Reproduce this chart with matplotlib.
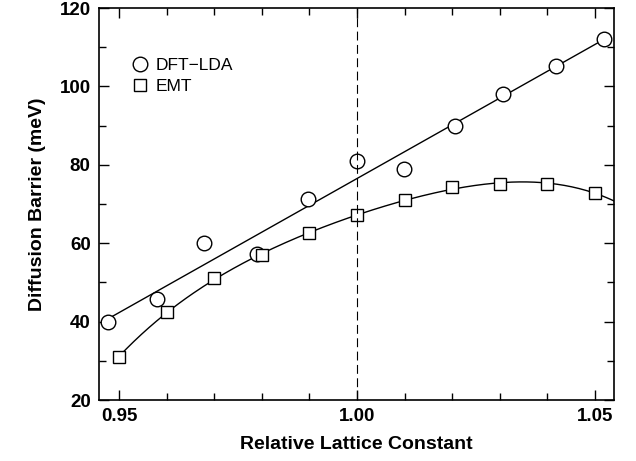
import numpy as np
import matplotlib
matplotlib.use("Agg")
import matplotlib.pyplot as plt
from matplotlib.ticker import MultipleLocator

# DFT-LDA barriers (circles)
dft_x = [0.9477, 0.9579, 0.9679, 0.9789, 0.9898, 1.0000, 1.0099, 1.0206, 1.0307, 1.0418, 1.0519]
dft_y = [40.0, 45.8, 60.0, 57.2, 71.2, 81.0, 78.9, 90.0, 98.1, 105.2, 112.1]

# EMT barriers (squares)
emt_x = [0.95, 0.96, 0.97, 0.98, 0.99, 1.00, 1.01, 1.02, 1.03, 1.04, 1.05]
emt_y = [31.0, 42.4, 51.0, 57.0, 62.5, 67.2, 71.0, 74.3, 75.1, 75.1, 72.9]

plt.rcParams["font.family"] = ["Liberation Sans", "DejaVu Sans"]
plt.rcParams["axes.unicode_minus"] = False

fig = plt.figure(figsize=(6.36, 4.61), dpi=100)
ax = fig.add_axes([0.1557, 0.1323, 0.8097, 0.8503])

# linear fit through DFT-LDA points
coef = np.polyfit(dft_x, dft_y, 1)
fx = np.array([dft_x[0], dft_x[-1]])
ax.plot(fx, np.polyval(coef, fx), color="black", lw=1.0)

# smooth curve through EMT points
ecoef = np.polyfit(emt_x, emt_y, 4)
ex = np.linspace(emt_x[0], 1.054, 200)
ax.plot(ex, np.polyval(ecoef, ex), color="black", lw=1.0)

ax.plot(dft_x, dft_y, "o", ms=10.5, mfc="white", mec="black", mew=1.0,
        label="DFT\u2212LDA")
ax.plot(emt_x, emt_y, "s", ms=9, mfc="white", mec="black", mew=1.0,
        label="EMT")

ax.axvline(1.0, color="black", lw=0.8, ls=(0, (8, 4)))

ax.set_xlim(0.9458, 1.054)
ax.set_ylim(20, 120)
ax.set_xticks([0.95, 1.00, 1.05])
ax.set_xticklabels(["0.95", "1.00", "1.05"])
ax.xaxis.set_minor_locator(MultipleLocator(0.01))
ax.yaxis.set_major_locator(MultipleLocator(20))
ax.yaxis.set_minor_locator(MultipleLocator(10))
ax.tick_params(which="both", direction="in", top=True, right=True, width=1.0)
ax.tick_params(which="major", length=7, labelsize=13.5, pad=6)
ax.tick_params(which="minor", length=5)
for lab in ax.get_xticklabels() + ax.get_yticklabels():
    lab.set_fontweight("bold")
for sp in ax.spines.values():
    sp.set_linewidth(1.2)

ax.set_xlabel("Relative Lattice Constant", fontsize=14, fontweight="bold", labelpad=8)
ax.set_ylabel("Diffusion Barrier (meV)", fontsize=14, fontweight="bold", labelpad=10)

ax.legend(loc="upper left", bbox_to_anchor=(0.05, 0.895), frameon=False,
          fontsize=12.5, handlelength=0.8, handletextpad=0.45, borderpad=0,
          labelspacing=0.35, numpoints=1)

fig.savefig("out.png", dpi=100)
